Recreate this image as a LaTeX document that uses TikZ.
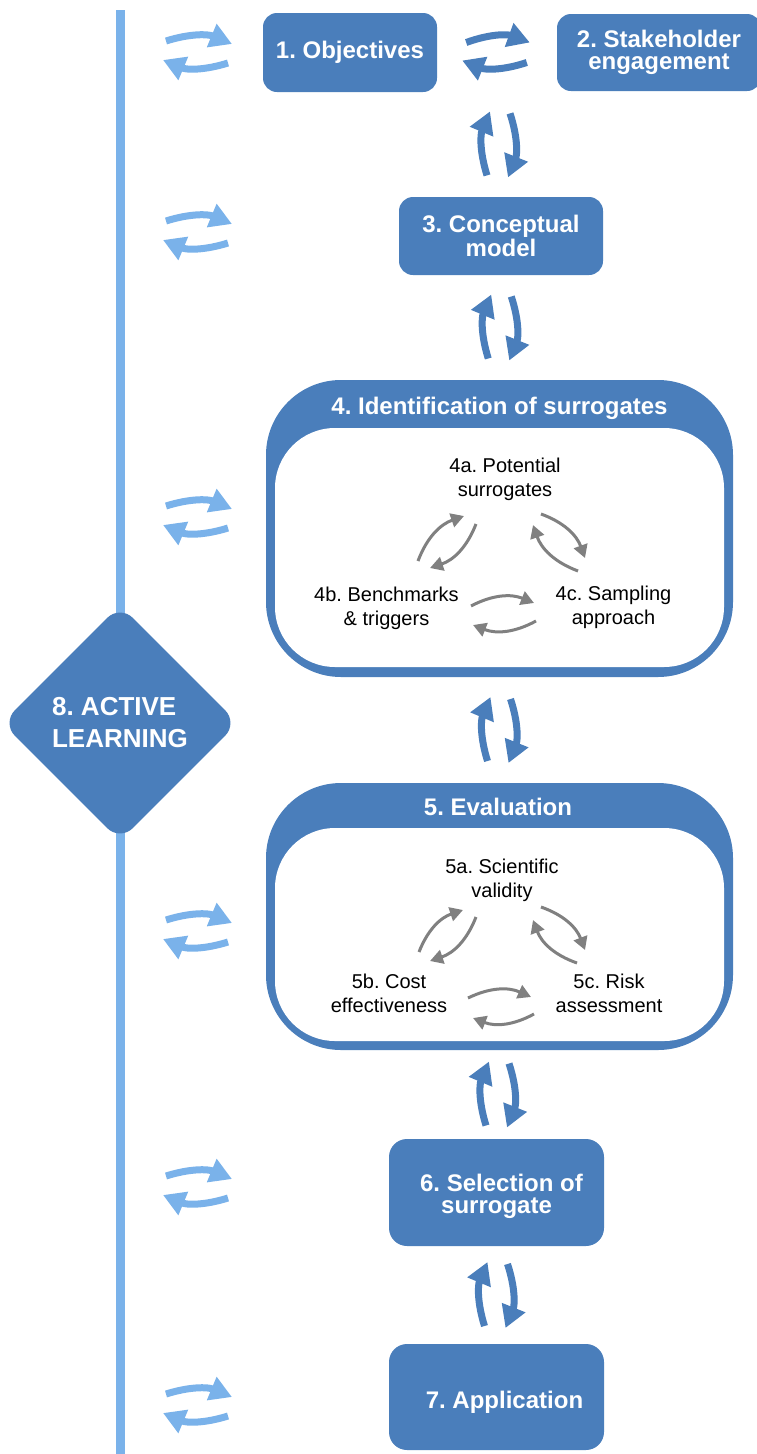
\documentclass[tikz,border=0pt]{standalone}
\usepackage{fontspec}
\setmainfont{Liberation Sans}
\frenchspacing
\usetikzlibrary{positioning,calc,shapes.geometric,arrows.meta}

\definecolor{stepblue}{RGB}{74,126,187}
\definecolor{loopblue}{RGB}{122,178,234}
\definecolor{subgray}{RGB}{128,128,128}

\tikzset{
    stepbox/.style={fill=stepblue, rounded corners=14pt, text=white, inner sep=0pt,
                    align=center, font=\fontsize{24}{21.5}\selectfont\bfseries},
    bigbox/.style={fill=stepblue, rounded corners=75pt, minimum width=467pt, inner sep=0pt},
    innerbox/.style={fill=white, rounded corners=60pt, minimum width=449pt, inner sep=0pt},
    boxtitle/.style={text=white, anchor=base, inner sep=0pt, font=\fontsize{24}{28}\selectfont\bfseries},
    substep/.style={anchor=base, inner sep=0pt, align=center, font=\fontsize{20}{24}\selectfont},
    loopline/.style={draw=loopblue, line width=9pt},
    looparr/.style={draw=loopblue, line width=7pt, -{Triangle[length=22pt,width=24pt]}},
    steparr/.style={draw=stepblue, line width=7pt, -{Triangle[length=22pt,width=24pt]}},
    subarr/.style={draw=subgray, line width=3pt, -{Triangle[length=13pt,width=14pt]}},
}

\begin{document}
\begin{tikzpicture}[x=1pt,y=-1pt]
            \useasboundingbox (0,0) rectangle (757,1454);

            \coordinate (ltop) at (120,10);
            \coordinate (lbot) at (120,1460);
            \draw[loopline] (ltop) -- (lbot);
            \node[diamond, fill=stepblue, rounded corners=18pt, minimum size=236pt, inner sep=0pt,
                  text=white, align=left, font=\fontsize{26}{32}\selectfont\bfseries]
                  (d8) at (120,723) {8. ACTIVE\\LEARNING};

            \node[stepbox, minimum width=174pt, minimum height=79pt] (b1) at (350,52.5) {1. Objectives};
            \node[stepbox, minimum width=204pt, minimum height=77pt] (b2) at (659,52.5) {2. Stakeholder\\engagement};
            \node[stepbox, minimum width=204pt, minimum height=78pt] (b3) at (501,236) {3. Conceptual\\model};

            \node[bigbox, minimum height=297pt] (b4) at (499.5,528.5) {};
            \node[innerbox, minimum height=239pt] (b4in) at (499.5,547.5) {};
            \node[boxtitle] (t4) at (499.5,414) {4. Identification of surrogates};
            \node[substep] (s4a) at (505,496)   {4a. Potential\\surrogates};
            \node[substep] (s4b) at (386.5,625) {4b. Benchmarks\\\& triggers};
            \node[substep] (s4c) at (613.5,624) {4c. Sampling\\approach};

            \node[bigbox, minimum height=267pt] (b5) at (499.5,916.5) {};
            \node[innerbox, minimum height=213pt] (b5in) at (499.5,934.5) {};
            \node[boxtitle] (t5) at (498,815) {5. Evaluation};
            \node[substep] (s5a) at (502,897)  {5a. Scientific\\validity};
            \node[substep] (s5b) at (389,1012) {5b. Cost\\effectiveness};
            \node[substep] (s5c) at (609,1012) {5c. Risk\\assessment};

            \node[stepbox, rounded corners=18pt, minimum width=215pt, minimum height=107pt, text height=47pt]
                  (b6) at (496.5,1192.5) {\hspace*{10pt}6. Selection of\\surrogate};
            \node[stepbox, rounded corners=18pt, minimum width=215pt, minimum height=106pt, text height=27pt]
                  (b7) at (496.5,1397) {\hspace*{16pt}7. Application};

            \foreach \cy in {52,232,517,931,1187,1405}{
                \coordinate (lp) at (197,\cy);
                \draw[looparr] ([shift={(-31,-11)}]lp) to[bend left=20] ([shift={(35,-8)}]lp);
                \draw[looparr] ([shift={(31,11)}]lp)   to[bend left=20] ([shift={(-34,8)}]lp);
            }

            \draw[steparr] ([shift={(29,-10)}]b1.east) to[bend left=20] ([shift={(-27,-10)}]b2.west);
            \draw[steparr] ([shift={(-30,10)}]b2.west) to[bend left=20] ([shift={(25,8)}]b1.east);

            \coordinate (r12) at (497,92);
            \foreach \up/\dn [count=\i] in {r12/b3.north, b3.south/b4.north, b4.south/b5.north,
                                           b5.south/b6.north, b6.south/b7.north}{
                \coordinate (v\i) at ($(\up)!.5!(\dn)$);
                \draw[steparr] ([shift={(-12,31)}]v\i) to[bend left=20] ([shift={(-9,-33)}]v\i);
                \draw[steparr] ([shift={(11,-31)}]v\i) to[bend left=20] ([shift={(9,33)}]v\i);
            }

            \draw[subarr] ([shift={(31.5,-64)}]s4b.base) to[bend left=25] ([shift={(-41,20)}]s4a.base);
            \draw[subarr] ([shift={(-29,28)}]s4a.base)   to[bend left=25] ([shift={(43.5,-57)}]s4b.base);
            \draw[subarr] ([shift={(36,18)}]s4a.base)    to[bend left=25] ([shift={(-28.5,-66)}]s4c.base);
            \draw[subarr] ([shift={(-35.5,-53)}]s4c.base) to[bend left=25] ([shift={(28,29)}]s4a.base);
            \draw[subarr] ([shift={(84.5,-19)}]s4b.base) to[bend left=25] ([shift={(-79.5,-21)}]s4c.base);
            \draw[subarr] ([shift={(-77.5,-3)}]s4c.base) to[bend left=25] ([shift={(86.5,0)}]s4b.base);

            \draw[subarr] ([shift={(30,-60)}]s5b.base)  to[bend left=25] ([shift={(-39,13)}]s5a.base);
            \draw[subarr] ([shift={(-26,20)}]s5a.base)  to[bend left=25] ([shift={(41,-51)}]s5b.base);
            \draw[subarr] ([shift={(39,10)}]s5a.base)   to[bend left=25] ([shift={(-24,-62)}]s5c.base);
            \draw[subarr] ([shift={(-32,-49)}]s5c.base) to[bend left=25] ([shift={(31,23)}]s5a.base);
            \draw[subarr] ([shift={(79,-14)}]s5b.base)  to[bend left=25] ([shift={(-78,-15)}]s5c.base);
            \draw[subarr] ([shift={(-75,2)}]s5c.base)   to[bend left=25] ([shift={(84,6)}]s5b.base);
\end{tikzpicture}
\end{document}
